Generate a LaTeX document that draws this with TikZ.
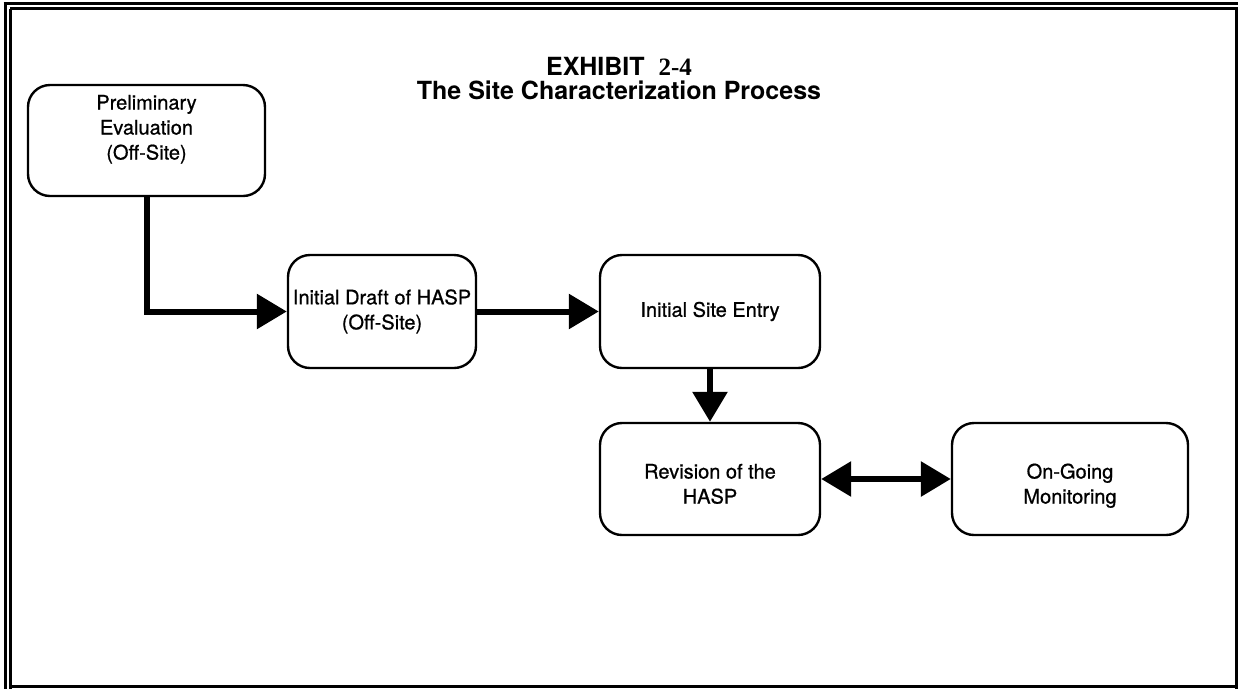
\documentclass[tikz,border=0pt]{standalone}
\usepackage{fontspec}
\setmainfont{TeX Gyre Heros}
\newfontfamily\boxfont[FakeBold=0.8]{TeX Gyre Heros}
\newfontfamily\numfont{Liberation Serif}
\usetikzlibrary{arrows.meta}
\newcommand\shiftedtext[2]{\raisebox{#1}[\height][\depth]{\begin{tabular}{@{}c@{}}#2\end{tabular}}}
\tikzset{
  stepbox/.style={draw, line width=2.4pt, rounded corners=22pt, align=center,
    font=\boxfont\fontsize{20}{25}\selectfont, inner sep=0pt},
  arr/.style={line width=6pt, -{Triangle[length=30pt,width=34pt]}},
  darr/.style={line width=6pt, {Triangle[length=30pt,width=34pt]}-{Triangle[length=30pt,width=34pt]}},
  frame/.style={line width=3pt},
  ttl/.style={font=\bfseries\fontsize{25}{24}\selectfont}
}
\begin{document}
\begin{tikzpicture}[x=1pt,y=-1pt]
\useasboundingbox (0,0) rectangle (1238,689);
% frame
\draw[frame] (3.5,3.5) -- (1238,3.5);
\draw[frame] (10,8.5) -- (1236,8.5);
\draw[frame] (5,3.5) -- (5,689);
\draw[frame] (10,8.5) -- (10,689);
\draw[frame] (1236,7) -- (1236,689);
\draw[frame] (10,686.5) -- (1238,686.5);
% title
\node[ttl] (t1) at (619,66) {EXHIBIT\ \ {\numfont 2-4}};
\node[ttl] (t2) at (619,90) {The Site Characterization Process};
% boxes
\node[stepbox, minimum width=237pt, minimum height=111pt] (b1) at (146.5,140.5) {\shiftedtext{11pt}{Preliminary\\Evaluation\\(Off-Site)}};
\node[stepbox, minimum width=188pt, minimum height=113pt] (b2) at (382,311.5) {Initial Draft of HASP\\(Off-Site)};
\node[stepbox, minimum width=220pt, minimum height=113pt] (b3) at (710,311.5) {Initial Site Entry};
\node[stepbox, minimum width=220pt, minimum height=112pt] (b4) at (710,479) {\shiftedtext{-7pt}{Revision of the\\HASP}};
\node[stepbox, minimum width=236pt, minimum height=112pt] (b5) at (1070,479) {\shiftedtext{-7pt}{On-Going\\Monitoring}};
% connectors
\draw[arr] (b1.south) |- (b2.west);
\draw[arr] (b2) -- (b3);
\draw[arr] (b3) -- (b4);
\draw[darr] (b4) -- (b5);
\end{tikzpicture}
\end{document}
